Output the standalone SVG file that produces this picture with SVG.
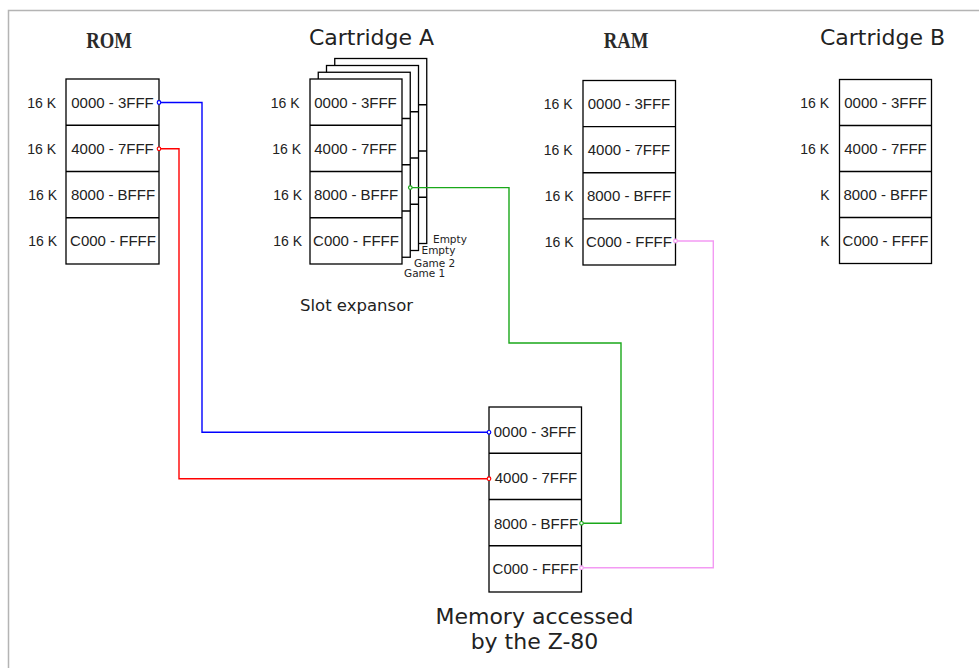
<svg xmlns="http://www.w3.org/2000/svg" width="979" height="668" viewBox="0 0 979 668">
<style>
.frame{fill:#fff;stroke:#b4b4b4;stroke-width:1.5}
.box{fill:#fff;stroke:#000;stroke-width:1.3}
.div{stroke:#000;stroke-width:1.3}
.t{font-family:"Liberation Sans",Arial,sans-serif;font-size:15px;fill:#222;text-anchor:middle}
.k{font-family:"Liberation Sans",Arial,sans-serif;font-size:14px;fill:#222;text-anchor:end}
.title{font-family:"DejaVu Sans",sans-serif;font-size:22px;fill:#222;text-anchor:middle}
.slab{font-family:"Liberation Serif","Times New Roman",serif;font-weight:bold;font-size:24px;fill:#2a2a2a;text-anchor:middle}
.small{font-family:"DejaVu Sans",sans-serif;font-size:10.5px;fill:#222}
.sub{font-family:"DejaVu Sans",sans-serif;font-size:16.5px;fill:#222}
.c{fill:none;stroke-width:1.4}
.dot{fill:#fff;stroke-width:1.2}
</style>
<rect class="frame" x="8.5" y="10.5" width="1000" height="700"/>

<g id="rom">
<text class="slab" transform="translate(109 48.3) scale(0.78 1)">ROM</text>
<rect class="box" x="66" y="79" width="93" height="185"/>
<line class="div" x1="66" y1="125.25" x2="159" y2="125.25"/>
<line class="div" x1="66" y1="171.5" x2="159" y2="171.5"/>
<line class="div" x1="66" y1="217.75" x2="159" y2="217.75"/>
<text class="t" x="112.5" y="108">0000 - 3FFF</text>
<text class="t" x="112.5" y="154">4000 - 7FFF</text>
<text class="t" x="113" y="199.5">8000 - BFFF</text>
<text class="t" x="113" y="245.5">C000 - FFFF</text>
<text class="k" x="56" y="108">16 K</text>
<text class="k" x="56" y="154">16 K</text>
<text class="k" x="57" y="199.5">16 K</text>
<text class="k" x="57" y="245.5">16 K</text>
</g>

<g id="cartridge-a">
<text class="title" x="371.5" y="45">Cartridge A</text>
<g>
<rect class="box" x="334.75" y="58.5" width="92" height="185"/>
<line class="div" x1="334.75" y1="104.75" x2="426.75" y2="104.75"/>
<line class="div" x1="334.75" y1="151" x2="426.75" y2="151"/>
<line class="div" x1="334.75" y1="197.25" x2="426.75" y2="197.25"/>
</g>
<g>
<rect class="box" x="326.5" y="65.5" width="92" height="185"/>
<line class="div" x1="326.5" y1="111.75" x2="418.5" y2="111.75"/>
<line class="div" x1="326.5" y1="158" x2="418.5" y2="158"/>
<line class="div" x1="326.5" y1="204.25" x2="418.5" y2="204.25"/>
</g>
<g>
<rect class="box" x="318.25" y="72.25" width="92" height="185"/>
<line class="div" x1="318.25" y1="118.5" x2="410.25" y2="118.5"/>
<line class="div" x1="318.25" y1="164.75" x2="410.25" y2="164.75"/>
<line class="div" x1="318.25" y1="211" x2="410.25" y2="211"/>
</g>
<g>
<rect class="box" x="310" y="79" width="92" height="185"/>
<line class="div" x1="310" y1="125.25" x2="402" y2="125.25"/>
<line class="div" x1="310" y1="171.5" x2="402" y2="171.5"/>
<line class="div" x1="310" y1="217.75" x2="402" y2="217.75"/>
</g>
<text class="t" x="355.5" y="108">0000 - 3FFF</text>
<text class="t" x="355.5" y="154">4000 - 7FFF</text>
<text class="t" x="356" y="199.5">8000 - BFFF</text>
<text class="t" x="356" y="245.5">C000 - FFFF</text>
<text class="k" x="299.5" y="108">16 K</text>
<text class="k" x="301" y="154">16 K</text>
<text class="k" x="302" y="199.5">16 K</text>
<text class="k" x="302" y="245.5">16 K</text>
<text class="small" x="433" y="243">Empty</text>
<text class="small" x="421.5" y="254">Empty</text>
<text class="small" x="414" y="266.5">Game 2</text>
<text class="small" x="404" y="277">Game 1</text>
<text class="sub" x="300" y="310.5">Slot expansor</text>
</g>

<g id="ram">
<text class="slab" transform="translate(626 48.3) scale(0.78 1)">RAM</text>
<rect class="box" x="583" y="80.5" width="92.5" height="184.5"/>
<line class="div" x1="583" y1="126.6" x2="675.5" y2="126.6"/>
<line class="div" x1="583" y1="172.75" x2="675.5" y2="172.75"/>
<line class="div" x1="583" y1="218.9" x2="675.5" y2="218.9"/>
<text class="t" x="629" y="109">0000 - 3FFF</text>
<text class="t" x="629" y="155">4000 - 7FFF</text>
<text class="t" x="629" y="201">8000 - BFFF</text>
<text class="t" x="629" y="246.5">C000 - FFFF</text>
<text class="k" x="572.5" y="109">16 K</text>
<text class="k" x="572.5" y="155">16 K</text>
<text class="k" x="573.5" y="201">16 K</text>
<text class="k" x="573.5" y="246.5">16 K</text>
</g>

<g id="cartridge-b">
<text class="title" x="882.5" y="45">Cartridge B</text>
<rect class="box" x="839.5" y="79.5" width="92" height="184"/>
<line class="div" x1="839.5" y1="125.5" x2="931.5" y2="125.5"/>
<line class="div" x1="839.5" y1="171.5" x2="931.5" y2="171.5"/>
<line class="div" x1="839.5" y1="217.5" x2="931.5" y2="217.5"/>
<text class="t" x="885.5" y="108">0000 - 3FFF</text>
<text class="t" x="885.5" y="154">4000 - 7FFF</text>
<text class="t" x="885.5" y="199.5">8000 - BFFF</text>
<text class="t" x="885.5" y="245.5">C000 - FFFF</text>
<text class="k" x="829" y="108">16 K</text>
<text class="k" x="829" y="154">16 K</text>
<text class="k" x="829.5" y="199.5">K</text>
<text class="k" x="829.5" y="245.5">K</text>
</g>

<g id="z80-memory">
<rect class="box" x="489" y="407" width="92.5" height="185"/>
<line class="div" x1="489" y1="453.25" x2="581.5" y2="453.25"/>
<line class="div" x1="489" y1="499.5" x2="581.5" y2="499.5"/>
<line class="div" x1="489" y1="545.75" x2="581.5" y2="545.75"/>
<text class="t" x="535" y="437">0000 - 3FFF</text>
<text class="t" x="536" y="483">4000 - 7FFF</text>
<text class="t" x="536" y="528.5">8000 - BFFF</text>
<text class="t" x="535.5" y="574">C000 - FFFF</text>
<text class="title" x="534.5" y="624">Memory accessed</text>
<text class="title" x="534.5" y="649">by the Z-80</text>
</g>

<g id="connectors">
<polyline class="c" stroke="#0000ff" points="159,102.5 202,102.5 202,432.3 489,432.3"/>
<polyline class="c" stroke="#ff0000" points="159,148.8 179,148.8 179,478.7 489,478.7"/>
<polyline class="c" stroke="#1aa81a" points="410.3,187.6 509,187.6 509,343 621,343 621,523.3 581.5,523.3"/>
<polyline class="c" stroke="#f39af3" points="675.5,241 713.3,241 713.3,567.7 581.5,567.7"/>
<circle class="dot" stroke="#0000ff" cx="159" cy="102.5" r="1.8"/>
<circle class="dot" stroke="#0000ff" cx="489" cy="432.3" r="1.8"/>
<circle class="dot" stroke="#ff0000" cx="159" cy="148.8" r="1.8"/>
<circle class="dot" stroke="#ff0000" cx="489" cy="478.7" r="1.8"/>
<circle class="dot" stroke="#1aa81a" cx="410.3" cy="187.6" r="1.8"/>
<circle class="dot" stroke="#1aa81a" cx="581.5" cy="523.3" r="1.8"/>
<circle class="dot" stroke="#f39af3" cx="675.5" cy="241" r="1.8"/>
<circle class="dot" stroke="#f39af3" cx="581.5" cy="567.7" r="1.8"/>
</g>
</svg>
